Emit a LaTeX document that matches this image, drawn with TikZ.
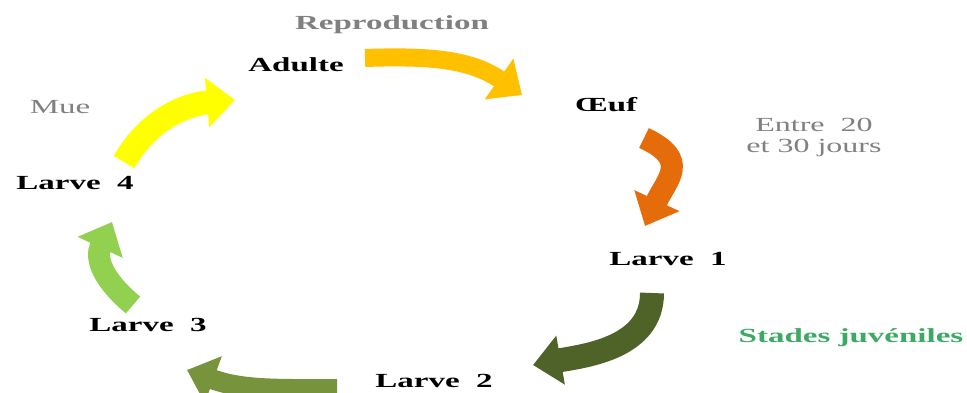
\documentclass[tikz,border=0pt]{standalone}
\usepackage{fontspec}
\setmainfont{Liberation Serif}
\usetikzlibrary{arrows.meta}
\definecolor{txtgray}{RGB}{128,128,128}
\definecolor{juvgreen}{RGB}{60,170,100}
\definecolor{gold}{RGB}{255,192,0}
\definecolor{eggorange}{RGB}{228,108,10}
\definecolor{darkolive}{RGB}{79,98,40}
\definecolor{olive}{RGB}{119,147,60}
\definecolor{lightgreen}{RGB}{146,208,80}
\definecolor{brightyellow}{RGB}{255,255,0}
\begin{document}
\begin{tikzpicture}
    [x=0.5pt, y=0.5pt,
    stage/.style={anchor=base, inner sep=0pt, xscale=1.65, font=\fontsize{10}{12}\selectfont\bfseries},
    note/.style={inner sep=0pt, xscale=1.6, text=txtgray, font=\fontsize{10}{10.5}\selectfont},
    cyc/.style={line width=11pt, -{Triangle[length=14pt, width=24pt]}}]
    \useasboundingbox (0,0) rectangle (967,392);
        %% stages of the cycle
        \node[stage] (Ad) at (296,321) {Adulte};
        \node[stage] (Oe) at (606,281) {Œuf};
        \node[stage] (L1) at (668,127) {Larve~ 1};
        \node[stage] (L2) at (434,5) {Larve~ 2};
        \node[stage] (L3) at (148,61) {Larve~ 3};
        \node[stage] (L4) at (75,203) {Larve~ 4};

        %% side notes
        \node[stage, text=txtgray] (Rep) at (392,363) {Reproduction};
        \node[stage, text=txtgray, font=\fontsize{10}{12}\selectfont] (Mue) at (60,279) {Mue};
        \node[note, anchor=north, align=center] (Dur) at (814,274) {Entre\ \ 20\\et 30 jours};
        \node[stage, text=juvgreen] (Juv) at (851,50) {Stades juvéniles};

        %% arrow ends
        \coordinate (Ad-s) at (365,334);
        \coordinate (Ad-e) at (522,297);
        \coordinate (Oe-s) at (644,254);
        \coordinate (Oe-e) at (645,166);
        \coordinate (L1-s) at (652,99);
        \coordinate (L1-e) at (533,27);
        \coordinate (L2-s) at (337,3);
        \coordinate (L2-e) at (187,22);
        \coordinate (L3-s) at (133,87);
        \coordinate (L3-e) at (112,170);
        \coordinate (L4-s) at (124,230);
        \coordinate (L4-e) at (235,292);

        \draw[cyc, gold, line width=9pt] (Ad-s) to[out=2, in=145] (Ad-e);
        \draw[cyc, eggorange] (Oe-s) to[out=-25, in=65, looseness=1.5] (Oe-e);
        \draw[cyc, darkolive, line width=12pt] (L1-s) to[out=-90, in=10] (L1-e);
        \draw[cyc, olive, line width=10pt] (L2-s) to[out=180, in=-20] (L2-e);
        \draw[cyc, lightgreen] (L3-s) to[out=140, in=-115, looseness=1.2] (L3-e);
        \draw[cyc, brightyellow, line width=12pt] (L4-s) to[out=60, in=185] (L4-e);
    \end{tikzpicture}
\end{document}
